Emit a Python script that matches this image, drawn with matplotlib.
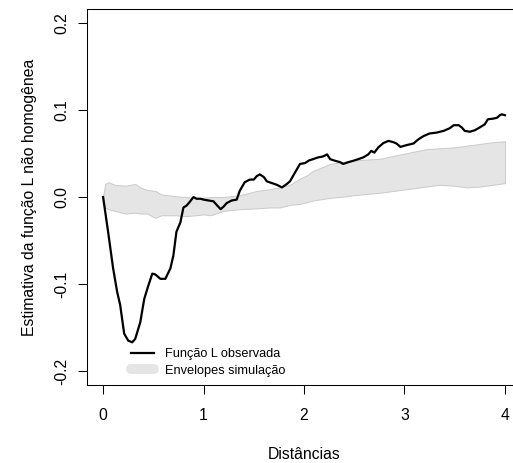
import matplotlib
matplotlib.use("Agg")
import matplotlib.pyplot as plt
from matplotlib.lines import Line2D

plt.rcParams['font.family'] = ['Liberation Sans', 'DejaVu Sans']

# funcao L observada
obs_x = [0.00, 0.05, 0.10, 0.14, 0.17, 0.21, 0.25, 0.29, 0.32, 0.37, 0.41, 0.45, 0.49, 0.52,
         0.57, 0.62, 0.67, 0.70, 0.73, 0.77, 0.80, 0.83, 0.86, 0.90, 0.93, 0.97, 1.00, 1.05,
         1.10, 1.13, 1.17, 1.20, 1.23, 1.28, 1.33, 1.36, 1.41, 1.46, 1.50, 1.53, 1.56, 1.60,
         1.63, 1.68, 1.73, 1.78, 1.83, 1.86, 1.89, 1.93, 1.96, 2.01, 2.05, 2.09, 2.14, 2.19,
         2.23, 2.26, 2.31, 2.36, 2.39, 2.44, 2.49, 2.54, 2.59, 2.64, 2.67, 2.70, 2.74, 2.79,
         2.84, 2.89, 2.92, 2.96, 3.02, 3.09, 3.14, 3.19, 3.25, 3.32, 3.39, 3.45, 3.49, 3.54,
         3.57, 3.60, 3.65, 3.70, 3.75, 3.80, 3.83, 3.88, 3.92, 3.95, 3.97, 4.00]
obs_y = [0.000, -0.040, -0.082, -0.109, -0.124, -0.157, -0.165, -0.167, -0.163, -0.144, -0.117,
         -0.102, -0.088, -0.089, -0.094, -0.094, -0.082, -0.067, -0.040, -0.029, -0.012, -0.010,
         -0.006, 0.000, -0.002, -0.002, -0.003, -0.004, -0.005, -0.009, -0.014, -0.011, -0.007,
         -0.004, -0.003, 0.007, 0.017, 0.020, 0.020, 0.024, 0.026, 0.023, 0.018, 0.016, 0.014,
         0.011, 0.015, 0.018, 0.024, 0.032, 0.038, 0.039, 0.042, 0.0435, 0.0455, 0.0466, 0.049,
         0.0435, 0.0416, 0.040, 0.038, 0.040, 0.0416, 0.0435, 0.0455, 0.049, 0.053, 0.051, 0.057,
         0.062, 0.0645, 0.063, 0.0615, 0.0576, 0.0596, 0.0615, 0.0664, 0.070, 0.073, 0.074,
         0.076, 0.079, 0.0825, 0.0825, 0.080, 0.076, 0.075, 0.0767, 0.080, 0.0836, 0.0893,
         0.090, 0.091, 0.094, 0.095, 0.094]

# envelopes das simulacoes
env_x = [0.00, 0.02, 0.05, 0.12, 0.22, 0.32, 0.37, 0.44, 0.52, 0.58, 0.65, 0.72, 0.82, 0.92,
         1.00, 1.07, 1.20, 1.36, 1.53, 1.66, 1.76, 1.86, 1.96, 2.03, 2.09, 2.26, 2.43, 2.49,
         2.76, 2.96, 3.09, 3.22, 3.35, 3.49, 3.62, 3.75, 3.88, 4.00]
env_hi = [0.000, 0.015, 0.017, 0.014, 0.013, 0.015, 0.011, 0.008, 0.007, 0.003, 0.002, 0.001,
          0.000, -0.001, -0.001, 0.000, 0.000, 0.002, 0.007, 0.009, 0.011, 0.014, 0.021, 0.025,
          0.030, 0.038, 0.041, 0.042, 0.044, 0.049, 0.052, 0.055, 0.056, 0.057, 0.059, 0.061,
          0.063, 0.064]
env_lo = [0.000, -0.012, -0.014, -0.016, -0.019, -0.018, -0.019, -0.019, -0.024, -0.021, -0.021,
          -0.021, -0.022, -0.021, -0.020, -0.021, -0.016, -0.014, -0.013, -0.012, -0.012, -0.009,
          -0.008, -0.006, -0.004, -0.001, 0.001, 0.002, 0.005, 0.008, 0.010, 0.012, 0.014, 0.013,
          0.011, 0.012, 0.014, 0.016]

xticks = [0, 1, 2, 3, 4]
yticks = [-0.2, -0.1, 0.0, 0.1, 0.2]
ytick_labels = ["-0.2", "-0.1", "0.0", "0.1", "0.2"]

fig = plt.figure(figsize=(5.13, 4.63), dpi=100)
ax = fig.add_axes([0.1696, 0.1685, 0.846, 0.812])

ax.fill_between(env_x, env_lo, env_hi, facecolor='#e5e5e5', edgecolor='#cacaca', linewidth=0.7)
ax.plot(obs_x, obs_y, color='black', lw=1.6)

ax.set_xlim(-0.16, 4.16)
ax.set_ylim(-0.216, 0.216)
ax.set_xticks(xticks)
ax.set_xticklabels([str(t) for t in xticks])
ax.set_yticks(yticks)
ax.set_yticklabels(ytick_labels, rotation=90, va='center')
ax.tick_params(direction='out', length=6.5, width=0.75, labelsize=11.3, color='black')
ax.tick_params(axis='x', pad=10)
ax.tick_params(axis='y', pad=6)
for s in ax.spines.values():
    s.set_linewidth(0.75)

ax.set_xlabel("Distâncias", fontsize=11.3, labelpad=17)
ax.set_ylabel("Estimativa da função L não homogênea", fontsize=11.3, labelpad=13)

handles = [Line2D([], [], color='black', lw=1.6),
           Line2D([], [], color='#e5e5e5', lw=7.2, solid_capstyle='round')]
fig.legend(handles, ["Função L observada", "Envelopes simulação"],
           loc='upper left', bbox_to_anchor=(0.255, 0.2484), frameon=False,
           fontsize=9.2, handlelength=1.8, handletextpad=0.86, labelspacing=0.36,
           borderpad=0, borderaxespad=0)

fig.savefig("out.png", dpi=100)
